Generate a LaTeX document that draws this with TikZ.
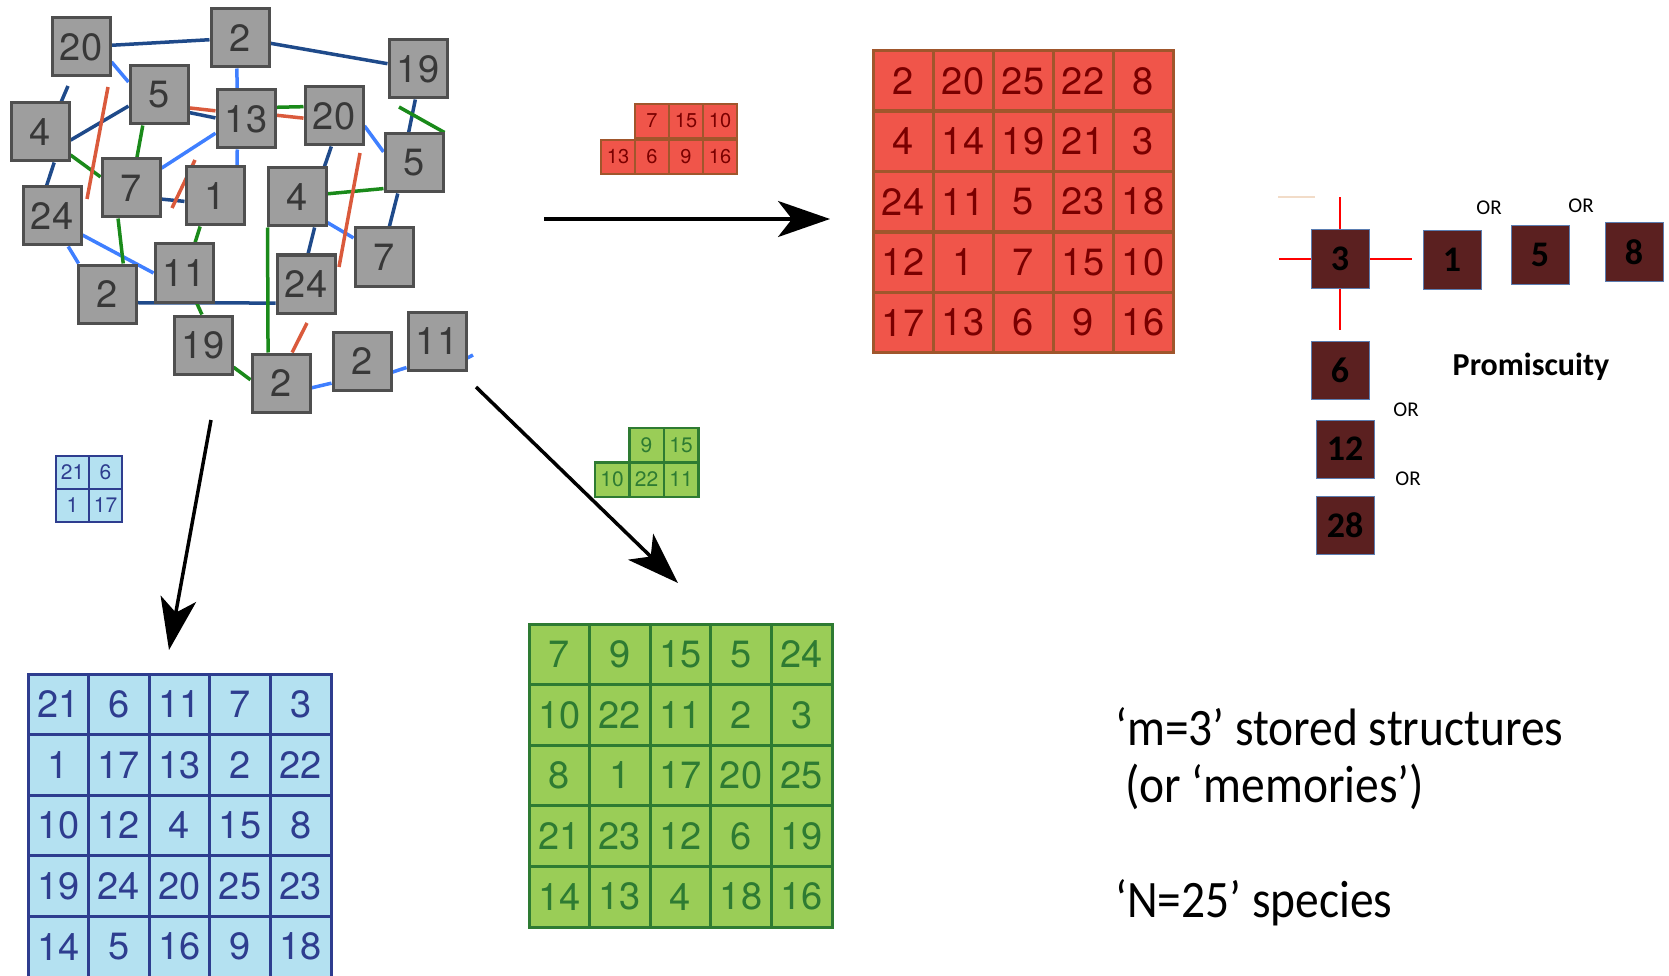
\documentclass[tikz,border=0pt]{standalone}
\usepackage{fontspec}
\setmainfont{TeX Gyre Heros}
\newfontfamily\calibfont{Carlito}
\usetikzlibrary{arrows.meta,backgrounds}

\definecolor{boxgray}{HTML}{9E9E9E}
\definecolor{boxedge}{HTML}{4F4F4F}
\definecolor{boxtext}{HTML}{383838}
\definecolor{darklinkc}{HTML}{1F4A8A}
\definecolor{lightlinkc}{HTML}{3F7FFF}
\definecolor{greenlinkc}{HTML}{1A8A1A}
\definecolor{redlinkc}{HTML}{DA5A3C}
\definecolor{redfill}{HTML}{F0554A}
\definecolor{redline}{HTML}{A0562C}
\definecolor{redtext}{HTML}{7A0000}
\definecolor{bluefill}{HTML}{B4E1F1}
\definecolor{blueline}{HTML}{2E3D8F}
\definecolor{greenfill}{HTML}{9ACD57}
\definecolor{greenline}{HTML}{2E7B32}
\definecolor{maroon}{HTML}{5B2020}
\definecolor{promedge}{HTML}{5B7DB1}

\begin{document}
\begin{tikzpicture}[x=1pt, y=-1pt,
  species/.style={draw=boxedge, fill=boxgray, line width=3pt, minimum size=58pt, inner sep=0pt, text=boxtext, font=\fontsize{38}{38}\selectfont},
  link/.style={line width=3.5pt},
  darklink/.style={link, darklinkc},
  lightlink/.style={link, lightlinkc},
  greenlink/.style={link, greenlinkc},
  redlink/.style={link, redlinkc},
  gridcell/.style={draw, line width=3pt, minimum size=#1, inner sep=0pt},
  redcell/.style={gridcell=60pt, fill=redfill, draw=redline, text=redtext, font=\fontsize{38}{38}\selectfont},
  bluecell/.style={gridcell=60.6pt, fill=bluefill, draw=blueline, text=blueline, font=\fontsize{38}{38}\selectfont},
  greencell/.style={gridcell=60.6pt, fill=greenfill, draw=greenline, text=greenline, font=\fontsize{38}{38}\selectfont},
  redbit/.style={gridcell=34pt, line width=2.5pt, fill=redfill, draw=redline, text=redtext, font=\fontsize{20}{20}\selectfont},
  bluebit/.style={gridcell=33pt, line width=2.5pt, fill=bluefill, draw=blueline, text=blueline, font=\fontsize{21}{21}\selectfont},
  greenbit/.style={gridcell=34.5pt, line width=2.5pt, fill=greenfill, draw=greenline, text=greenline, font=\fontsize{21}{21}\selectfont},
  recall/.style={line width=3.5pt, -{Stealth[length=52pt, width=36pt, inset=14pt]}},
  prombox/.style={draw=promedge, fill=maroon, line width=1pt, minimum size=58pt, inner sep=0pt, font=\calibfont\bfseries\fontsize{36}{36}\selectfont},
  orlabel/.style={anchor=base, font=\calibfont\fontsize{21}{21}\selectfont},
  crossline/.style={line width=2pt, red},
  legend/.style={anchor=base west, inner sep=0pt, font=\calibfont\fontsize{47}{47}\selectfont},
]
\useasboundingbox (0,0) rectangle (1669,976);

% interaction network
\node[species] (n20a) at (81,47) {20};
\node[species] (n2a) at (240,38) {2};
\node[species] (n19a) at (418,69) {19};
\node[species] (n5a) at (159,95) {5};
\node[species] (n4a) at (40,132) {4};
\node[species] (n13a) at (246,119) {13};
\node[species] (n20b) at (334,116) {20};
\node[species] (n5b) at (414,163) {5};
\node[species] (n7a) at (131,188) {7};
\node[species] (n1a) at (215,196) {1};
\node[species] (n4b) at (297,197) {4};
\node[species] (n24a) at (52,216) {24};
\node[species] (n7b) at (384,257) {7};
\node[species] (n11a) at (184,273) {11};
\node[species] (n24b) at (306,284) {24};
\node[species] (n2b) at (107,294) {2};
\node[species] (n19b) at (203,345) {19};
\node[species] (n2c) at (281,383) {2};
\node[species] (n2d) at (362,361) {2};
\node[species] (n11b) at (437,341) {11};
\coordinate (u1) at (68,86);
\coordinate (u2) at (473,355);
\coordinate (u3) at (399,107);
\coordinate (u4) at (108,87);
\coordinate (u5) at (87,199);
\coordinate (u6) at (195,160);
\coordinate (u7) at (172,208);
\coordinate (u8) at (360,153);
\coordinate (u9) at (339,267);
\coordinate (u10) at (307,323);
\begin{scope}[on background layer]
\draw[darklink] (n20a) -- (n2a);
\draw[darklink] (n2a) -- (n19a);
\draw[darklink] (n5a.-30) -- (n13a.178);
\draw[darklink] (n4a.-15) -- (n5a.200);
\draw[darklink] (u1) -- (n4a.55);
\draw[darklink] (n4a.-65) -- (n24a.100);
\draw[darklink] (n7a.-20) -- (n1a.190);
\draw[darklink] (n20b.-95) -- (n4b.48);
\draw[darklink] (n19a.-95) -- (n5b.100);
\draw[darklink] (n5b.-118) -- (n7b.80);
\draw[darklink] (n4b.-60) -- (n24b.86);
\draw[darklink] (n2b.-16) -- (n24b.212);
\draw[lightlink] (n20a.-26) -- (n5a.157);
\draw[lightlink] (n2a.-96) -- (n13a.106);
\draw[lightlink] (n13a.205) -- (n7a.33);
\draw[lightlink] (n13a.-106) -- (n1a.54);
\draw[lightlink] (n20b.-18) -- (n5b.160);
\draw[lightlink] (n4b.-40) -- (n7b.148);
\draw[lightlink] (n24a.-62) -- (n2b.133);
\draw[lightlink] (n24a.-32) -- (n11a.west);
\draw[lightlink] (n2c.-9) -- (n2d.216);
\draw[lightlink] (n2d.-20) -- (n11b.221);
\draw[lightlink] (n11b.-29) -- (u2);
\draw[greenlink] (n13a.21) -- (n20b.163);
\draw[greenlink] (n5a.-118) -- (n7a.79);
\draw[greenlink] (n4a.-37) -- (n7a.160);
\draw[greenlink] (n7a.-113) -- (n2b.62);
\draw[greenlink] (n1a.-116) -- (n11a.70);
\draw[greenlink] (n4b.6) -- (n5b.220);
\draw[greenlink] (n4b.-134) -- (n2c.113);
\draw[greenlink] (n11a.-67) -- (n19b.92);
\draw[greenlink] (n19b.-36) -- (n2c.174);
\draw[greenlink] (u3) -- (n5b.north east);
\draw[redlink] (n5a.-23) -- (n13a.165);
\draw[redlink] (n13a.7) -- (n20b.184);
\draw[redlink] (u4) -- (u5);
\draw[redlink] (u6) -- (u7);
\draw[redlink] (u8) -- (u9);
\draw[redlink] (u10) -- (n2c.70);
\end{scope}

% recall arrows
\coordinate (h0) at (544,219);
\coordinate (h1) at (830,219);
\coordinate (l0) at (211,420);
\coordinate (l1) at (169,650);
\coordinate (d0) at (476,387);
\coordinate (d1) at (678,583);
\draw[recall] (h0) -- (h1);
\draw[recall] (l0) -- (l1);
\draw[recall] (d0) -- (d1);

% stored structures
\foreach \vals [count=\r from 0] in {{2,20,25,22,8},{4,14,19,21,3},{24,11,5,23,18},{12,1,7,15,10},{17,13,6,9,16}}
  \foreach \v [count=\c from 0] in \vals
    \node[redcell] (red-\r-\c) at (903+60*\c, 81+60.4*\r) {\v};
\foreach \vals [count=\r from 0] in {{21,6,11,7,3},{1,17,13,2,22},{10,12,4,15,8},{19,24,20,25,23},{14,5,16,9,18}}
  \foreach \v [count=\c from 0] in \vals
    \node[bluecell] (blue-\r-\c) at (58.3+60.6*\c, 704.3+60.6*\r) {\v};
\foreach \vals [count=\r from 0] in {{7,9,15,5,24},{10,22,11,2,3},{8,1,17,20,25},{21,23,12,6,19},{14,13,4,18,16}}
  \foreach \v [count=\c from 0] in \vals
    \node[greencell] (green-\r-\c) at (559.3+60.6*\c, 654.3+60.6*\r) {\v};

% cues
\node[redbit] (rb1) at (652,121) {7};
\node[redbit] (rb2) at (686,121) {15};
\node[redbit] (rb3) at (720,121) {10};
\node[redbit] (rb4) at (618,157) {13};
\node[redbit] (rb5) at (652,157) {6};
\node[redbit] (rb6) at (686,157) {9};
\node[redbit] (rb7) at (720,157) {16};
\node[greenbit] (gb1) at (646.5,445) {9};
\node[greenbit] (gb2) at (681,445) {15};
\node[greenbit] (gb3) at (612,479.5) {10};
\node[greenbit] (gb4) at (646.5,479.5) {22};
\node[greenbit] (gb5) at (681,479.5) {11};
\node[bluebit] (bb1) at (72.5,472.5) {21};
\node[bluebit] (bb2) at (105.5,472.5) {6};
\node[bluebit] (bb3) at (72.5,505.5) {1};
\node[bluebit] (bb4) at (105.5,505.5) {17};

% promiscuity
\draw[line width=2pt, color={rgb,255:red,242;green,220;blue,200}] (1278,197) -- (1315,197);
\node[prombox] (p3) at (1340,259) {3};
\node[prombox] (p1) at (1452,260) {1};
\node[prombox] (p5) at (1540,255) {5};
\node[prombox] (p8) at (1634,252) {8};
\node[prombox] (p6) at (1340,370) {6};
\node[prombox] (p12) at (1345,449) {12};
\node[prombox] (p28) at (1345,525) {28};
\coordinate (c1) at (1340,197);
\coordinate (c2) at (1412,259);
\coordinate (c3) at (1279,259);
\coordinate (c4) at (1340,330);
\draw[crossline] (p3.north) -- (c1);
\draw[crossline] (p3.east) -- (c2);
\draw[crossline] (p3.west) -- (c3);
\draw[crossline] (p3.south) -- (c4);
\node[orlabel] (or1) at (1489,215) {OR};
\node[orlabel] (or2) at (1581,213) {OR};
\node[orlabel] (or3) at (1406,416) {OR};
\node[orlabel] (or4) at (1408,485) {OR};
\node[anchor=base, font=\calibfont\bfseries\fontsize{32}{32}\selectfont] (prom) at (1531,375) {Promiscuity};

% legend text
\node[legend] (txt1) at (1115,745) {\scalebox{1.01}[1.12]{‘m=3’ stored structures}};
\node[legend] (txt2) at (1125,802) {\scalebox{1.01}[1.12]{(or ‘memories’)}};
\node[legend] (txt3) at (1115,917) {\scalebox{1.01}[1.12]{‘N=25’ species}};
\end{tikzpicture}
\end{document}
